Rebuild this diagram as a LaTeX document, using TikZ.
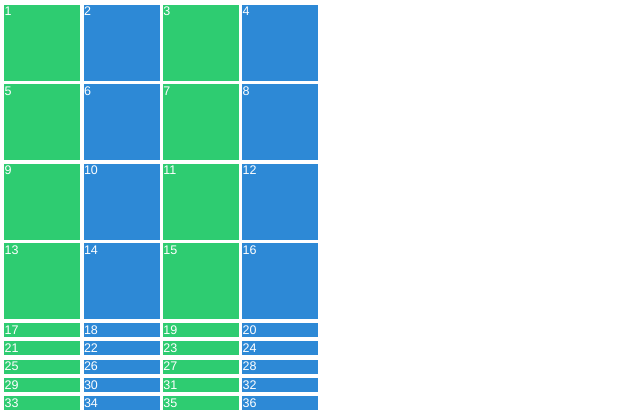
\documentclass[tikz,border=0pt]{standalone}
\usepackage{fontspec}
\setmainfont{Liberation Sans}
\definecolor{tilegreen}{RGB}{46,204,113}
\definecolor{tileblue}{RGB}{45,137,214}
\begin{document}
\begin{tikzpicture}[
        x=1pt, y=-1pt,
        bigtile/.style={
            anchor=north west,
            inner sep=0pt,
            minimum width=76pt,
            minimum height=76pt
        },
        smalltile/.style={
            anchor=north west,
            inner sep=0pt,
            minimum width=76pt,
            minimum height=14pt
        },
        num/.style={
            anchor=north west,
            inner xsep=0.5pt,
            inner ysep=2.5pt,
            text=white,
            font=\fontsize{12.5}{14}\selectfont
        }
    ]
        \useasboundingbox (0,0) rectangle (642,413);

        % big tiles 1..16
        \foreach \r in {0,...,3} {
            \foreach \c [evaluate=\c as \n using int(4*\r+\c+1)] in {0,...,3} {
                \ifodd\c \def\tilecol{tileblue}\else\def\tilecol{tilegreen}\fi
                \node[bigtile, fill=\tilecol] (t\n) at ({4+79.3*\c},{4.5+79.5*\r}) {};
                \node[num] (n\n) at (t\n.north west) {\n};
            }
        }

        % small tiles 17..36
        \foreach \r in {0,...,4} {
            \foreach \c [evaluate=\c as \n using int(17+4*\r+\c)] in {0,...,3} {
                \ifodd\c \def\tilecol{tileblue}\else\def\tilecol{tilegreen}\fi
                \node[smalltile, fill=\tilecol] (t\n) at ({4+79.3*\c},{323+18.2*\r}) {};
                \node[num] (n\n) at (t\n.north west) {\n};
            }
        }
    \end{tikzpicture}
\end{document}
